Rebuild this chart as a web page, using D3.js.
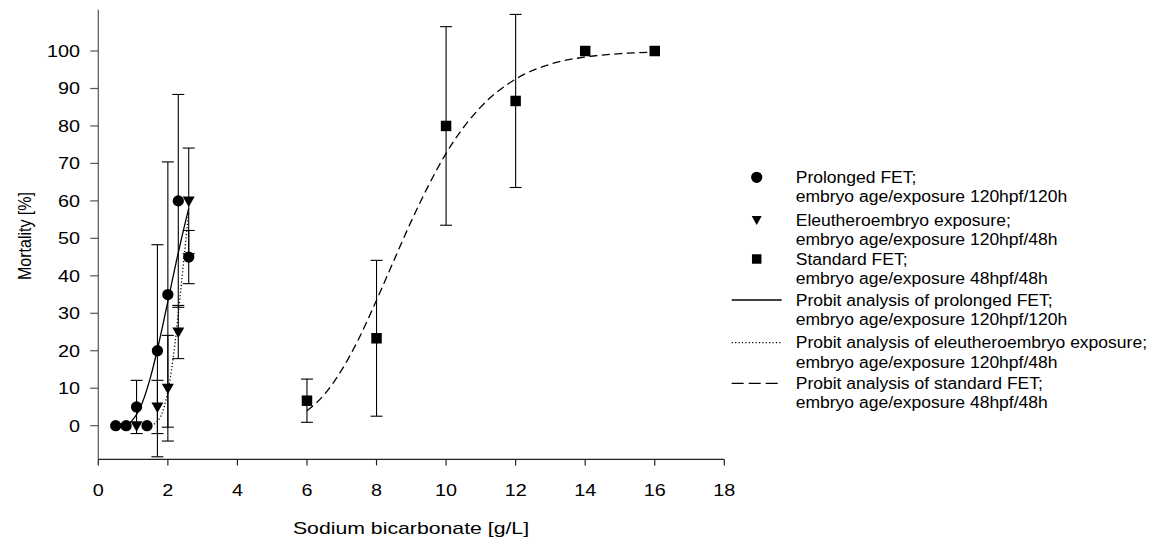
<!DOCTYPE html>
<html>
<head>
<meta charset="utf-8">
<script src="https://cdn.jsdelivr.net/npm/d3@7"></script>
<style>
  body { margin: 0; background: #fff; }
  text { font-family: "Liberation Sans", Arial, sans-serif; fill: #000; }
</style>
</head>
<body>
<svg id="chart" width="1153" height="545"></svg>
<script>
// Mortality of zebrafish embryos / eleutheroembryos vs sodium bicarbonate
const prolongedDose = [0.5, 0.8, 1.1, 1.4, 1.7, 2.0, 2.3, 2.6];
const prolongedMort = [0, 0, 5, 0, 20, 35, 60, 45];
const prolongedSd   = [0, 0, 7.1, 0, 28.3, 35.4, 28.4, 7.1];

const eleuDose = [1.1, 1.7, 2.0, 2.3, 2.6];
const eleuMort = [0, 5, 10, 25, 60];
const eleuSd   = [0, 7.1, 14.1, 7.1, 14.1];

const standardDose = [6, 8, 10, 12, 14, 16];
const standardMort = [6.67, 23.33, 80, 86.67, 100, 100];
const standardSd   = [5.77, 20.8, 26.5, 23.1, 0, 0];

// probit fit curves (dose, mortality)
const probitProlongedDose = [0.5, 0.75, 1.0, 1.25, 1.5, 1.75, 2.0, 2.25, 2.5, 2.6];
const probitProlongedMort = [0, 0.25, 1.7, 5.8, 12.9, 22.4, 33.2, 44.1, 54.2, 58.0];

const probitEleuDose = [1.6, 1.7, 1.8, 1.9, 2.0, 2.1, 2.2, 2.3, 2.4, 2.5, 2.6];
const probitEleuMort = [0.4, 1.2, 2.6, 5.2, 9.1, 14.6, 21.6, 29.8, 38.8, 48.0, 57.0];

const probitStandardDose = [6, 6.5, 7, 7.5, 8, 8.5, 9, 9.5, 10, 11, 12, 13, 14, 15, 16];
const probitStandardMort = [4.0, 8.3, 14.9, 23.4, 33.5, 44.1, 54.6, 64.2, 72.7, 85.1, 92.5, 96.5, 98.4, 99.3, 99.7];

const xTicks = [0, 2, 4, 6, 8, 10, 12, 14, 16, 18];
const yTicks = [0, 10, 20, 30, 40, 50, 60, 70, 80, 90, 100];

const xTitle = "Sodium bicarbonate [g/L]";
const yTitle = "Mortality [%]";

const legendLabels = [
  ["Prolonged FET;", "embryo age/exposure 120hpf/120h"],
  ["Eleutheroembryo exposure;", "embryo age/exposure 120hpf/48h"],
  ["Standard FET;", "embryo age/exposure 48hpf/48h"],
  ["Probit analysis of  prolonged FET;", "embryo age/exposure 120hpf/120h"],
  ["Probit analysis of eleutheroembryo exposure;", "embryo age/exposure 120hpf/48h"],
  ["Probit analysis of standard FET;", "embryo age/exposure 48hpf/48h"]
];

const svg = d3.select("#chart");
const x = d3.scaleLinear().domain([0, 18]).range([98.3, 724.3]);
const y = d3.scaleLinear().domain([-9, 111]).range([459.4, 9.8]);

// text helper: horizontally stretched label centred vertically on ty
function label(g, tx, ty, str, anchor, size, sx) {
  return g.append("text")
    .attr("transform", `translate(${tx},${ty}) scale(${sx},1)`)
    .attr("text-anchor", anchor)
    .attr("dy", "0.36em")
    .style("font-size", size + "px")
    .text(str);
}

// axes
const axes = svg.append("g");
axes.append("line").attr("x1", x(0)).attr("x2", x(0))
  .attr("y1", y(111)).attr("y2", y(-9)).attr("stroke", "#555").attr("stroke-width", 1.2);
axes.append("line").attr("x1", x(0)).attr("x2", x(18))
  .attr("y1", y(-9)).attr("y2", y(-9)).attr("stroke", "#222").attr("stroke-width", 1.2);

yTicks.forEach(v => {
  axes.append("line").attr("x1", x(0) - 8).attr("x2", x(0))
    .attr("y1", y(v)).attr("y2", y(v)).attr("stroke", "#555").attr("stroke-width", 1.2);
  label(axes, 80, y(v), String(v), "end", 16.5, 1.2);
});
xTicks.forEach(v => {
  axes.append("line").attr("x1", x(v)).attr("x2", x(v))
    .attr("y1", y(-9)).attr("y2", y(-9) + 6).attr("stroke", "#222").attr("stroke-width", 1.2);
  label(axes, x(v), 490, String(v), "middle", 16.5, 1.2);
});
label(axes, 411, 528, xTitle, "middle", 17, 1.25);
axes.append("text")
  .attr("transform", `translate(25,236) rotate(-90) scale(1,1.12)`)
  .attr("text-anchor", "middle").attr("dy", "0.36em")
  .style("font-size", "16px").text(yTitle);

// probit curves
const line = d3.line().x(d => x(d[0])).y(d => y(d[1])).curve(d3.curveMonotoneX);
const curves = svg.append("g").attr("fill", "none").attr("stroke", "#000");
curves.append("path").datum(d3.zip(probitProlongedDose, probitProlongedMort))
  .attr("d", line).attr("stroke-width", 1.3);
curves.append("path").datum(d3.zip(probitEleuDose, probitEleuMort))
  .attr("d", line).attr("stroke-width", 1.3).attr("stroke-dasharray", "1.2,2.2");
curves.append("path").datum(d3.zip(probitStandardDose, probitStandardMort))
  .attr("d", line).attr("stroke-width", 1.3).attr("stroke-dasharray", "8,4.5");

// error bars (mean ± SD)
function errorBars(dose, mort, sd) {
  const g = svg.append("g").attr("stroke", "#000").attr("stroke-width", 1.1);
  dose.forEach((d, i) => {
    if (!sd[i]) return;
    const cx = x(d), lo = y(mort[i] - sd[i]), hi = y(mort[i] + sd[i]);
    g.append("line").attr("x1", cx).attr("x2", cx).attr("y1", lo).attr("y2", hi);
    g.append("line").attr("x1", cx - 6).attr("x2", cx + 6).attr("y1", lo).attr("y2", lo);
    g.append("line").attr("x1", cx - 6).attr("x2", cx + 6).attr("y1", hi).attr("y2", hi);
  });
}
errorBars(standardDose, standardMort, standardSd);
errorBars(eleuDose, eleuMort, eleuSd);
errorBars(prolongedDose, prolongedMort, prolongedSd);

// markers
const circleSym = d3.symbol().type(d3.symbolCircle).size(100);
const squareSym = d3.symbol().type(d3.symbolSquare).size(110);
const triPath = "M-6,-4.5L6,-4.5L0,6Z";

svg.append("g").selectAll("path").data(d3.zip(standardDose, standardMort)).join("path")
  .attr("transform", d => `translate(${x(d[0])},${y(d[1])})`).attr("d", squareSym);
svg.append("g").selectAll("path").data(d3.zip(eleuDose, eleuMort)).join("path")
  .attr("transform", d => `translate(${x(d[0])},${y(d[1])})`).attr("d", triPath);
svg.append("g").selectAll("path").data(d3.zip(prolongedDose, prolongedMort)).join("path")
  .attr("transform", d => `translate(${x(d[0])},${y(d[1])})`).attr("d", circleSym);

// legend
const lg = svg.append("g");
const rowTop = [177.3, 220, 259, 300, 342.7, 383.3];
const lineGap = 19.2;
const markX = 756.7, textX = 795.7;
legendLabels.forEach((lines, i) => {
  lines.forEach((t, k) => label(lg, textX, rowTop[i] + k * lineGap, t, "start", 16, 1.095));
});
lg.append("path").attr("transform", `translate(${markX},${rowTop[0]})`).attr("d", circleSym);
lg.append("path").attr("transform", `translate(${markX},${rowTop[1]})`).attr("d", "M-5,-4L5,-4L0,5Z");
lg.append("path").attr("transform", `translate(${markX},${rowTop[2]})`).attr("d", d3.symbol().type(d3.symbolSquare).size(90));
lg.append("line").attr("x1", 731.7).attr("x2", 781.7).attr("y1", rowTop[3]).attr("y2", rowTop[3])
  .attr("stroke", "#000").attr("stroke-width", 1.3);
lg.append("line").attr("x1", 731.7).attr("x2", 781.7).attr("y1", rowTop[4]).attr("y2", rowTop[4])
  .attr("stroke", "#000").attr("stroke-width", 1.2).attr("stroke-dasharray", "1.2,2.2");
lg.append("line").attr("x1", 731.7).attr("x2", 781.7).attr("y1", rowTop[5]).attr("y2", rowTop[5])
  .attr("stroke", "#000").attr("stroke-width", 1.3).attr("stroke-dasharray", "12,5");
</script>
</body>
</html>
